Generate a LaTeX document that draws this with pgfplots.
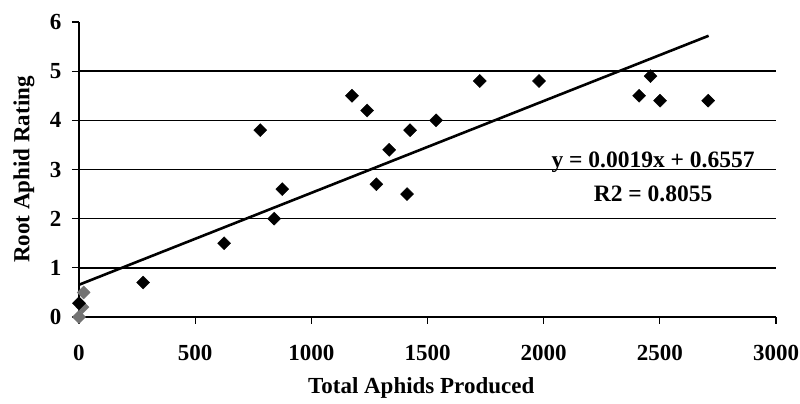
\documentclass[border=0pt]{standalone}
\usepackage{fontspec}
\setmainfont{Liberation Serif}
\usepackage{pgfplots}
\pgfplotsset{compat=1.18}
\begin{document}
\begin{tikzpicture}[x=1pt,y=1pt]
\path[use as bounding box] (0,0) rectangle (800,404);
\begin{axis}[
  at={(79pt,87pt)}, anchor=south west,
  scale only axis, width=697pt, height=295pt,
  xmin=0, xmax=3000, ymin=0, ymax=6,
  axis lines=left, axis line style={line width=1.8pt, -},
  xtick={0,500,...,3000}, ytick={0,1,...,6},
  tick align=outside, major tick length=7pt,
  tick style={line width=1.3pt, black},
  extra y ticks={1,2,3,4,5}, extra y tick labels={},
  extra y tick style={ymajorgrids=true, major tick length=0pt},
  grid style={line width=1.6pt, black},
  /pgf/number format/assume math mode=true,
  /pgf/number format/1000 sep={},
  every tick label/.append style={font=\fontsize{23}{28}\selectfont\bfseries},
  xticklabel style={yshift=-18pt},
  yticklabel style={xshift=-7pt},
  xlabel={Total Aphids Produced},
  ylabel={Root Aphid Rating},
  xlabel style={font=\fontsize{23}{28}\selectfont\bfseries, at={(axis description cs:0.491,0)}, anchor=center, yshift=-71pt},
  ylabel style={font=\fontsize{23}{28}\selectfont\bfseries, at={(axis description cs:-0.079,0.5)}, anchor=center},
  clip=false,
]
\addplot[only marks, mark=square*, mark size=4.6pt, mark options={rotate=45, fill=black!55, draw=black!55}] coordinates {
(20,0.5)(15,0.2)(0,0.0)
};
\addplot[only marks, mark=square*, mark size=4.6pt, mark options={rotate=45, fill=black}] coordinates {
(780,3.8)(875,2.6)(840,2.0)(625,1.5)(276,0.7)(1175,4.5)(1240,4.2)(1280,2.7)(1335,3.4)(1412,2.5)(1425,3.8)(1537,4.0)(1725,4.8)(1980,4.8)(2411,4.5)(2460,4.9)(2501,4.4)(2708,4.4)(0,0.28)
};
\addplot[line width=2.6pt, black] coordinates {(0,0.6557)(2710,5.72)};
\node[anchor=base, font=\fontsize{23.5}{28}\selectfont\bfseries] at (axis cs:2471,3.05) {y = 0.0019x + 0.6557};
\node[anchor=base, font=\fontsize{23.5}{28}\selectfont\bfseries] at (axis cs:2471,2.34) {R2 = 0.8055};
\end{axis}
\end{tikzpicture}
\end{document}
